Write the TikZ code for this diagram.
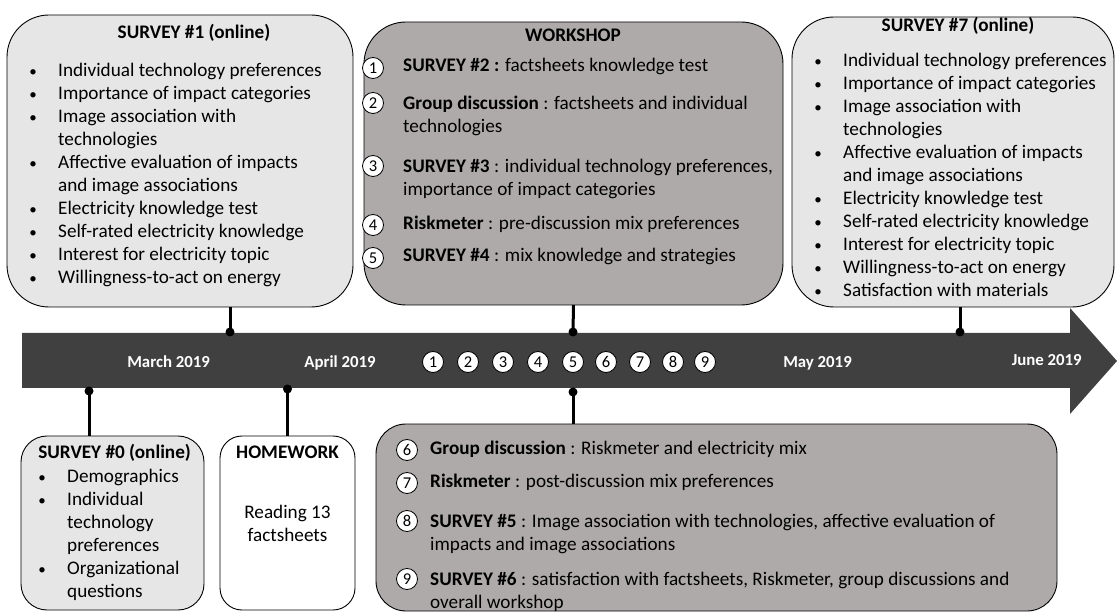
\documentclass[tikz,border=0pt]{standalone}
\usepackage{fontspec}
\setmainfont{Carlito}
\definecolor{lgray}{HTML}{E7E6E6}
\definecolor{mgray}{HTML}{AEAAAA}
\definecolor{dgray}{HTML}{404040}
\newcommand\bodyf{\fontsize{19.2}{23}\selectfont}
\newcommand\tlf{\fontsize{16.8}{19}\selectfont\bfseries}
\newcommand\bul{\makebox[0pt]{\fontsize{15}{15}\selectfont •}\hspace{25pt}}
\newcommand\ind{\hspace{25pt}}
\begin{document}
\begin{tikzpicture}[x=1pt,y=-1pt,
  box/.style={draw=black, line width=0.9pt, anchor=north west, inner sep=0, outer sep=0},
  txt/.style={anchor=north west, inner sep=0, font=\bodyf},
  ttl/.style={anchor=base, inner sep=0, font=\bodyf\bfseries},
  tl/.style={anchor=base, inner sep=0, font=\tlf, text=white},
  num/.style={circle, draw=black, line width=0.8pt, fill=white, inner sep=0, minimum size=21pt, font=\fontsize{16.5}{16.5}\selectfont},
  conn/.style={line width=3pt, black},
  dot/.style={circle, fill=black, inner sep=0, minimum size=9pt}]
\useasboundingbox (0,0) rectangle (1117,612);

% timeline arrow
\path[fill=dgray] (22,333) -- (1070,333) -- (1070,308) -- (1117,361) -- (1070,414) -- (1070,388) -- (22,388) -- cycle;
\node[tl] (mar) at (168.6,367) {March 2019};
\node[tl] (apr) at (340,367) {April 2019};
\node[tl] (may) at (817.5,367) {May 2019};
\node[tl] (jun) at (1046.7,366) {June 2019};
\foreach \n/\x in {1/433,2/468,3/503,4/538,5/573,6/606,7/640,8/673,9/705}
  \node[num] (t\n) at (\x,362) {\n};

% boxes
\node[box, fill=lgray, rounded corners=42pt, minimum width=346pt, minimum height=292pt] (b1) at (7,15) {};
\node[box, fill=mgray, rounded corners=42pt, minimum width=419pt, minimum height=283pt] (ws) at (364,22) {};
\node[box, fill=lgray, rounded corners=42pt, minimum width=322pt, minimum height=290pt] (b7) at (792,17) {};
\node[box, fill=lgray, rounded corners=26pt, minimum width=183pt, minimum height=174pt] (b0) at (21,436) {};
\node[box, fill=white, rounded corners=22pt, minimum width=135pt, minimum height=174pt] (hw) at (220,436) {};
\node[box, fill=mgray, rounded corners=30pt, minimum width=681pt, minimum height=187pt] (wb) at (376,424) {};

% SURVEY #1
\node[ttl] (b1t) at (194,38.5) {SURVEY \#1 (online)};
\node[txt] (b1l) at (33,60.4) {\begin{tabular}{@{}l@{}}
\bul Individual technology preferences\\
\bul Importance of impact categories\\
\bul Image association with\\
\ind technologies\\
\bul Affective evaluation of impacts\\
\ind and image associations\\
\bul Electricity knowledge test\\
\bul Self-rated electricity knowledge\\
\bul Interest for electricity topic\\
\bul Willingness-to-act on energy
\end{tabular}};

% SURVEY #7
\node[ttl] (b7t) at (958,31.5) {SURVEY \#7 (online)};
\node[txt] (b7l) at (818,50.4) {\begin{tabular}{@{}l@{}}
\bul Individual technology preferences\\
\bul Importance of impact categories\\
\bul Image association with\\
\ind technologies\\
\bul Affective evaluation of impacts\\
\ind and image associations\\
\bul Electricity knowledge test\\
\bul Self-rated electricity knowledge\\
\bul Interest for electricity topic\\
\bul Willingness-to-act on energy\\
\bul Satisfaction with materials
\end{tabular}};

% SURVEY #0
\node[ttl] (b0t) at (114.6,458.5) {SURVEY \#0 (online)};
\node[txt] (b0l) at (42,466.4) {\begin{tabular}{@{}l@{}}
\bul Demographics\\
\bul Individual\\
\ind technology\\
\ind preferences\\
\bul Organizational\\
\ind questions
\end{tabular}};

% HOMEWORK
\node[ttl] (hwt) at (287.5,458.5) {HOMEWORK};
\node[txt, anchor=north] (hwl) at (287.5,502.4) {\begin{tabular}{@{}c@{}}Reading 13\\ factsheets\end{tabular}};

% WORKSHOP top
\node[ttl] (wst) at (573,41.5) {WORKSHOP};
\node[num] (w1) at (373,68) {1};
\node[num] (w2) at (373,103) {2};
\node[num] (w3) at (373,166) {3};
\node[num] (w4) at (373,225) {4};
\node[num] (w5) at (373,258) {5};
\node[txt] (w1t) at (403,58.4) {\textbf{SURVEY \#2 :} factsheets knowledge test};
\node[txt] (w2t) at (403,93.4) {\begin{tabular}{@{}l@{}}\textbf{Group discussion} : factsheets and individual\\ technologies\end{tabular}};
\node[txt] (w3t) at (403,156.4) {\begin{tabular}{@{}l@{}}\textbf{SURVEY \#3} : individual technology preferences,\\ importance of impact categories\end{tabular}};
\node[txt] (w4t) at (403,215.4) {\textbf{Riskmeter} : pre-discussion mix preferences};
\node[txt] (w5t) at (403,248.4) {\textbf{SURVEY \#4} : mix knowledge and strategies};

% WORKSHOP bottom
\node[num] (w6) at (407,450) {6};
\node[num] (w7) at (407,483) {7};
\node[num] (w8) at (407,521) {8};
\node[num] (w9) at (407,579) {9};
\node[txt] (w6t) at (430,440.4) {\textbf{Group discussion} : Riskmeter and electricity mix};
\node[txt] (w7t) at (430,473.4) {\textbf{Riskmeter} : post-discussion mix preferences};
\node[txt] (w8t) at (430,511.4) {\begin{tabular}{@{}l@{}}\textbf{SURVEY \#5} : Image association with technologies, affective evaluation of\\ impacts and image associations\end{tabular}};
\node[txt] (w9t) at (430,569.4) {\begin{tabular}{@{}l@{}}\textbf{SURVEY \#6} : satisfaction with factsheets, Riskmeter, group discussions and\\ overall workshop\end{tabular}};

% connectors
\node[dot] (d1) at (230,332) {};
\node[dot] (d0) at (89,391) {};
\node[dot] (dh) at (287.5,389) {};
\node[dot] (dw) at (573,332) {};
\node[dot] (db) at (573,392) {};
\node[dot] (d7) at (960,332) {};
\draw[conn] (b1.south -| d1) -- (d1.center);
\draw[conn] (d0.center) -- (b0.north -| d0);
\draw[conn] (dh.center) -- (hw.north);
\draw[conn] (ws.south) -- (dw.center);
\draw[conn] (db.center) -- (wb.north -| db);
\draw[conn] (b7.south -| d7) -- (d7.center);
\end{tikzpicture}
\end{document}
